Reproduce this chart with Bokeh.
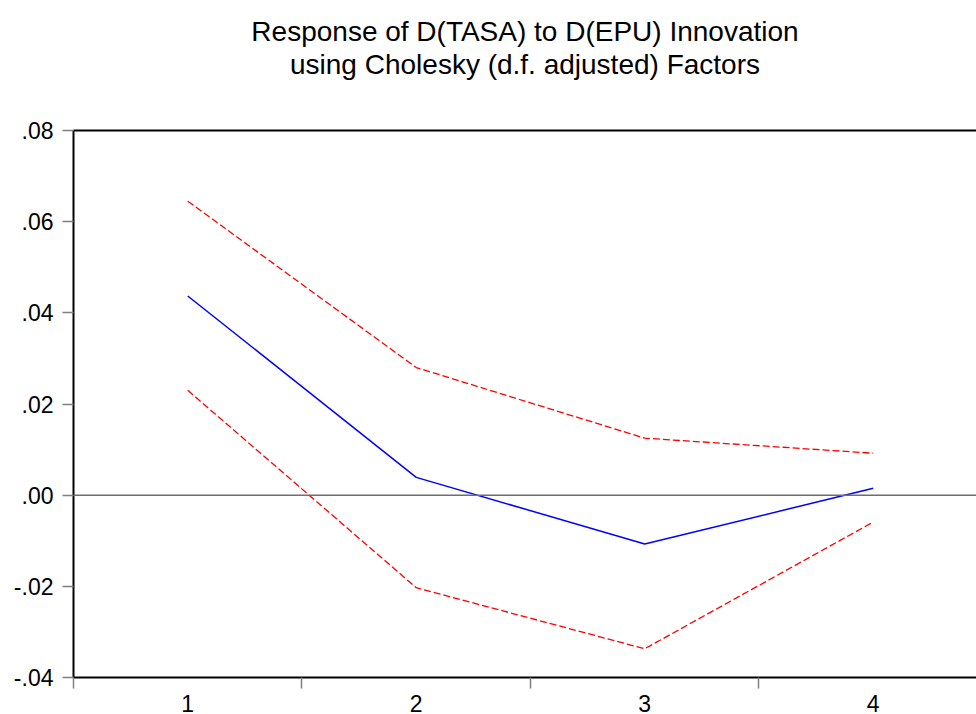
from bokeh.plotting import figure
from bokeh.models import (Range1d, FixedTicker, LinearAxis, Span, Title)
from bokeh.embed import file_html
from bokeh.resources import INLINE

# --- data -------------------------------------------------------------
periods = [1, 2, 3, 4]
response = [0.0437, 0.0039, -0.0107, 0.0015]
upper_band = [0.0645, 0.0280, 0.0125, 0.0092]
lower_band = [0.0230, -0.0203, -0.0337, -0.0059]
y_ticks = [-0.04, -0.02, 0.00, 0.02, 0.04, 0.06, 0.08]
y_tick_labels = ["-.04", "-.02", ".00", ".02", ".04", ".06", ".08"]
x_tick_labels = ["1", "2", "3", "4"]
x_boundaries = [0.5, 1.5, 2.5, 3.5]
title_lines = ["Response of D(TASA) to D(EPU) Innovation",
               "using Cholesky (d.f. adjusted) Factors"]

FONT = "Liberation Sans"

p = figure(width=976, height=714, title=None, toolbar_location=None,
           output_backend="svg",
           x_range=Range1d(0.5, 4.452), y_range=Range1d(-0.04, 0.08),
           min_border_left=73, min_border_right=0, min_border_top=130,
           min_border_bottom=30, x_axis_type=None, y_axis_type=None)
p.outline_line_color = None
p.grid.visible = False
p.background_fill_color = "white"
p.border_fill_color = "white"

# zero line
p.add_layout(Span(location=0, dimension="width", line_color="#6e6e6e",
                  line_width=1.5))

p.line(periods, upper_band, line_color="#ff0000", line_width=1.3,
       line_dash="7 3")
p.line(periods, lower_band, line_color="#ff0000", line_width=1.3,
       line_dash="7 3")
p.line(periods, response, line_color="#0000ff", line_width=1.5)

# y axis
yax = LinearAxis(ticker=FixedTicker(ticks=y_ticks, minor_ticks=[]))
yax.major_label_overrides = {t: l for t, l in zip(y_ticks, y_tick_labels)}
yax.axis_line_color = "black"
yax.axis_line_width = 2
yax.major_tick_in = 0
yax.major_tick_out = 11
yax.major_tick_line_color = "#808080"
yax.major_tick_line_width = 1.5
yax.minor_tick_line_color = None
yax.major_label_standoff = 9
yax.major_label_text_font = FONT
yax.major_label_text_font_size = "23px"
yax.major_label_text_color = "black"
p.add_layout(yax, "left")

# x axis
xax = LinearAxis(ticker=FixedTicker(ticks=periods, minor_ticks=x_boundaries))
xax.major_label_overrides = {t: l for t, l in zip(periods, x_tick_labels)}
xax.axis_line_color = "black"
xax.axis_line_width = 2
xax.major_tick_in = 0
xax.major_tick_out = 0
xax.minor_tick_in = 0
xax.minor_tick_out = 11
xax.minor_tick_line_color = "#808080"
xax.minor_tick_line_width = 1.5
xax.major_label_standoff = 6
xax.major_label_text_font = FONT
xax.major_label_text_font_size = "23px"
xax.major_label_text_color = "black"
p.add_layout(xax, "below")

# top border
tax = LinearAxis(ticker=FixedTicker(ticks=[], minor_ticks=[]))
tax.axis_line_color = "black"
tax.axis_line_width = 2
tax.major_tick_in = 0
tax.major_tick_out = 0
tax.minor_tick_in = 0
tax.minor_tick_out = 0
tax.major_label_standoff = 0
tax.major_label_text_font_size = "0px"
p.add_layout(tax, "above")

# blank spacer panel between the frame and the title lines
p.add_layout(Title(text=" ", text_font=FONT, text_font_size="10px",
                   standoff=38), "above")
p.add_layout(Title(text=title_lines[1], align="center",
                   text_font=FONT, text_font_size="28px",
                   text_font_style="normal", text_color="black",
                   standoff=0), "above")
p.add_layout(Title(text=title_lines[0], align="center",
                   text_font=FONT, text_font_size="28px",
                   text_font_style="normal", text_color="black",
                   standoff=0), "above")

open("out.html", "w").write(file_html(p, INLINE))
